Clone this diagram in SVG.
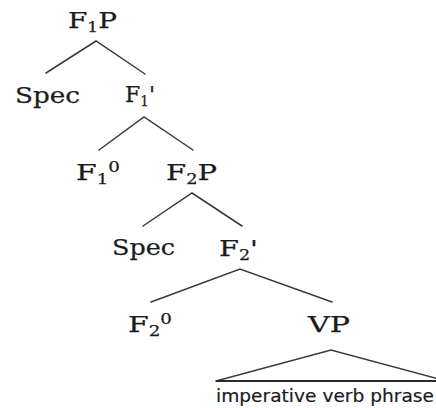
<svg xmlns="http://www.w3.org/2000/svg" width="436" height="408" viewBox="0 0 436 408">
  <style>
    .lbl { font-family: "DejaVu Serif", "Liberation Serif", serif; font-size: 23px; fill: #1b1b1b; stroke: #1b1b1b; stroke-width: 0.25px; }
    .sub { font-size: 14px; }
    .yield { font-family: "DejaVu Sans", "Liberation Sans", sans-serif; font-size: 18px; fill: #1b1b22; stroke: #1b1b22; stroke-width: 0.2px; }
    .edge { stroke: #3a3a3a; stroke-width: 1.5; fill: none; stroke-linecap: round; }
    .base { stroke: #2a2a2a; stroke-width: 2.2; fill: none; }
  </style>
  <rect width="436" height="408" fill="#ffffff"/>

  <!-- branches -->
  <g id="connectors">
    <polyline class="edge" points="46,73 96,41 145,74"/>
    <polyline class="edge" points="99,150 144,117 193,150"/>
    <polyline class="edge" points="143,226 192,193 242,226"/>
    <polyline class="edge" points="151,302 240,269 332,302"/>
    <polyline class="edge" points="216,381 331,350 446,381"/>
    <line class="base" x1="216" y1="381" x2="446" y2="381"/>
  </g>

  <g id="f1p">
    <text class="lbl" x="68" y="28" textLength="49" lengthAdjust="spacingAndGlyphs">F<tspan class="sub" dy="4">1</tspan><tspan dy="-4">P</tspan></text>
  </g>
  <g id="spec1">
    <text class="lbl" x="15" y="103" textLength="65" lengthAdjust="spacingAndGlyphs">Spec</text>
  </g>
  <g id="f1bar">
    <text class="lbl" x="125" y="102" textLength="30" lengthAdjust="spacingAndGlyphs">F<tspan class="sub" dy="4">1</tspan><tspan dy="-4">'</tspan></text>
  </g>
  <g id="f1head">
    <text class="lbl" x="76" y="180" textLength="44" lengthAdjust="spacingAndGlyphs">F<tspan class="sub" dy="4">1</tspan><tspan class="sub" dy="-12">0</tspan></text>
  </g>
  <g id="f2p">
    <text class="lbl" x="166" y="180" textLength="51" lengthAdjust="spacingAndGlyphs">F<tspan class="sub" dy="4">2</tspan><tspan dy="-4">P</tspan></text>
  </g>
  <g id="spec2">
    <text class="lbl" x="112" y="255" textLength="63" lengthAdjust="spacingAndGlyphs">Spec</text>
  </g>
  <g id="f2bar">
    <text class="lbl" x="219" y="256" textLength="39" lengthAdjust="spacingAndGlyphs">F<tspan class="sub" dy="4">2</tspan><tspan dy="-4">'</tspan></text>
  </g>
  <g id="f2head">
    <text class="lbl" x="128" y="332" textLength="44" lengthAdjust="spacingAndGlyphs">F<tspan class="sub" dy="4">2</tspan><tspan class="sub" dy="-12">0</tspan></text>
  </g>
  <g id="vp">
    <text class="lbl" x="308" y="332" textLength="42" lengthAdjust="spacingAndGlyphs">VP</text>
  </g>
  <g id="vp-yield">
    <text class="yield" x="216" y="402" textLength="218" lengthAdjust="spacingAndGlyphs">imperative verb phrase</text>
  </g>
</svg>
